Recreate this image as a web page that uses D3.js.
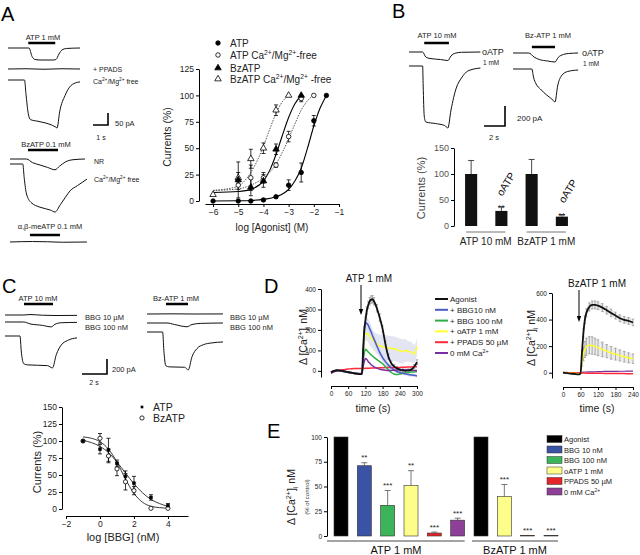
<!DOCTYPE html>
<html><head><meta charset="utf-8">
<script src="https://cdn.jsdelivr.net/npm/d3@7"></script>
<style>
body{margin:0;background:#fff}
svg{display:block}
</style></head><body>
<svg id="c" width="640" height="555"></svg>
<script>
// ================= DATA =================
// Panel A dose-response (log [Agonist] M vs Currents %)
const aTicksX = [-6,-5,-4,-3,-2,-1];
const aTicksY = [0,25,50,75,100,125];
const aATPx = [-6,-5,-4.5,-4,-3.5,-3,-2.5,-2,-1.5];
const aATPy = [0,0,0,1,4,15,27,76,100];
const aATPe = [0,0,0,1,1,5,9,5,0];
const aATPCax = [-5,-4.5,-4,-3.5,-3,-2.5,-2];
const aATPCay = [15,22,22,34,61,97,100];
const aATPCae = [4,12,5,2,5,3,0];
const aBzx = [-5,-4.5,-4,-3.5,-2.5];
const aBzy = [20,13,19,49,100];
const aBze = [17,8,6,5,0];
const aBzCax = [-6,-5,-4.5,-4,-3.5,-3];
const aBzCay = [6,22,40,50,86,100];
const aBzCae = [0,5,9,5,5,0];
const aFitATP = [[-6,0],[-5,0.2],[-4.5,0.5],[-4,1.5],[-3.5,4],[-3,11],[-2.75,19],[-2.5,31],[-2.25,50],[-2,71],[-1.75,88],[-1.5,100]];
const aFitATPCa = [[-6,10],[-5,11.5],[-4.5,15],[-4,22],[-3.5,35],[-3.25,46],[-3,59],[-2.75,73],[-2.5,86],[-2.25,95],[-2,100]];
const aFitBz = [[-6,8],[-5,9],[-4.5,11],[-4,19],[-3.75,29],[-3.5,44],[-3.25,62],[-3,79],[-2.75,92],[-2.5,100]];
const aFitBzCa = [[-6,10],[-5,14],[-4.75,19],[-4.5,27],[-4.25,38],[-4,52],[-3.75,68],[-3.5,83],[-3.25,94],[-3,100]];

// Panel A current traces ([time s, current pA])
const trATP1 = [[0,0],[1.4,0],[1.6,-35],[1.8,-48],[2.2,-50],[3.0,-50],[3.2,-48],[3.4,-25],[3.6,-8],[3.9,-2],[4.8,0]];
const trPPADS = [[0,0],[1.2,1],[2.4,-1],[3.6,1],[4.8,0]];
const trATPCa = [[0,0],[1.1,0],[1.2,-60],[1.35,-140],[1.5,-165],[2.0,-172],[2.8,-185],[3.15,-195],[3.27,-200],[3.45,-130],[3.8,-65],[4.1,-30],[4.5,-12],[4.8,-8]];
const trBzNR = [[0,0],[1.1,0],[1.5,-15],[2,-25],[2.5,-35],[3,-45],[3.3,-30],[3.7,-12],[4.2,-3],[5,0]];
const trBzCa = [[0,0],[0.85,0],[0.95,-60],[1.1,-125],[1.4,-160],[2,-180],[2.7,-192],[3.0,-200],[3.35,-170],[3.7,-138],[4.0,-112],[4.5,-90],[5.13,-63]];
const trMeATP = [[0,0],[1.5,2],[2.5,1],[3.5,-1],[5.13,0]];

// Panel B traces
const trB1 = [[0,0],[1.3,0],[1.6,-50],[2,-65],[3,-75],[3.7,-85],[4,-40],[4.4,-12],[5,-3],[6.8,0]];
const trB2 = [[0,0],[1.3,0],[1.35,-200],[1.45,-500],[1.6,-560],[2.5,-575],[3.4,-595],[3.7,-620],[4.0,-440],[4.5,-220],[5.0,-120],[5.6,-50],[6.8,-20]];
const trB3 = [[0,0],[1.5,0],[2,-40],[2.5,-65],[3.3,-80],[4,-90],[4.3,-45],[4.8,-15],[5.3,-5],[6.2,0]];
const trB4 = [[0,0],[1.8,0],[1.95,-80],[2.2,-150],[2.6,-200],[3.2,-260],[3.7,-300],[4.0,-330],[4.25,-170],[4.6,-70],[5.2,-25],[6.2,-10]];
// Panel B bars
const bCats = ["ATP ctrl","ATP oATP","BzATP ctrl","BzATP oATP"];
const bValues = [100,29,100,18];
const bErr = [26,8,28,4];
const bStars = ["","**","","**"];
const bTicksY = [0,50,100,150];

// Panel C traces
const trC1 = [[0,0],[1.5,0],[2,6],[3,-3],[4,-7],[5.76,-5]];
const trC2 = [[0,0],[1.5,0],[2,-25],[3,-45],[3.7,-65],[4,-30],[4.5,-10],[5.76,-5]];
const trC3 = [[0,0],[1.2,0],[1.3,-200],[1.5,-370],[1.8,-385],[3.4,-395],[3.8,-425],[4.1,-250],[4.5,-120],[5,-60],[5.76,-25]];
const trC4 = [[0,0],[2,2],[4,0],[6.08,1]];
const trC5 = [[0,0],[1.6,0],[2.2,-20],[3.2,-50],[3.6,-20],[4.3,-5],[6.08,0]];
const trC6 = [[0,0],[1.25,0],[1.35,-250],[1.5,-450],[1.8,-465],[3.0,-470],[3.3,-505],[3.6,-330],[4.0,-220],[4.5,-170],[5.2,-145],[6.08,-133]];
// Panel C inhibition curve (log [BBG] nM)
const cTicksX = [-2,0,2,4];
const cTicksY = [0,25,50,75,100,125,150];
const cX = [-1,0,0.5,1,1.5,2,3,4];
const cATP = [100,88,87,67,48,38,17,5];
const cATPe = [0,7,17,5,8,10,4,3];
const cBz = [100,104,78,59,40,27,1,1];
const cBze = [0,7,10,10,12,6,0,0];
const cFitATP = [[-1,101],[0,92],[0.5,83],[1,69],[1.5,53],[2,37],[2.5,24],[3,14],[3.5,8],[4,4]];
const cFitBz = [[-1,106],[-0.5,104],[0,99],[0.5,88],[1,69],[1.5,44],[2,23],[2.5,10],[3,4],[3.5,2],[4,1]];

// Panel D time courses
const dLegend = ["Agonist","+ BBG10 nM","+ BBG 100 nM","+ oATP 1 mM","+ PPADS 50 \u00b5M","0 mM Ca"];
const dLeftTime = [0,10,20,30,40,50,60,70,80,90,100,108,112,116,120,125,130,135,140,145,150,160,170,180,190,200,210,220,230,240,250,260,270,280,290,300];
const dLeftAgonist = [-6,0,3,2,0,-3,-6,-9,-12,-14,-16,-16,100,200,245,295,322,340,348,350,340,306,260,205,130,70,38,22,12,6,2,0,2,6,20,42];
const dLeftAgonistErr = [5,5,5,5,5,5,5,5,5,5,5,5,10,15,18,18,18,18,18,18,18,18,18,15,15,12,10,8,8,8,8,8,8,8,10,12];
const dLeftBBG10 = [-8,-2,2,0,-2,-5,-8,-10,-12,-14,-15,-15,80,180,235,232,222,205,190,172,155,122,90,65,45,28,15,5,-3,-8,-12,-15,-18,-20,-22,-25];
const dLeftBBG10Err = [0,0,0,0,0,0,0,0,0,0,0,0,10,20,30,30,30,30,30,30,28,25,22,20,18,15,12,10,8,8,8,8,8,8,8,8];
const dLeftBBG100 = [-8,-2,2,0,-2,-5,-8,-10,-12,-13,-14,-14,40,85,105,100,92,85,78,72,66,55,45,35,20,5,-8,-15,-18,-15,-12,-10,-8,-6,-5,-4];
const dLeftOATP = [-10,-5,-2,0,-2,-5,-8,-10,-12,-13,-14,-14,60,140,180,182,178,170,160,152,145,132,122,118,115,112,110,108,104,98,95,100,95,92,82,118];
const dLeftOATPErr = [0,0,0,0,0,0,0,0,0,0,0,0,10,20,30,35,40,45,45,45,45,50,55,60,60,60,60,60,60,60,60,55,50,50,45,40];
const dLeftPPADS = [-5,-3,0,3,5,7,9,10,11,11,12,12,12,12,13,13,13,13,14,14,14,14,15,15,16,16,16,17,17,17,18,18,19,19,20,20];
const dLeftCa0 = [-12,-5,0,2,0,-3,-6,-8,-10,-12,-13,-13,20,45,60,55,45,38,30,25,20,14,8,5,3,2,2,3,4,5,5,5,4,3,2,2];
const dLeftTicksX = [0,60,120,180,240,300];
const dLeftTicksY = [0,100,200,300,400];
const dRightTime = [0,10,20,30,40,50,55,60,65,70,75,80,90,100,110,120,135,150,165,180,195,210,225,240];
const dRightAgonist = [0,-3,-5,-8,-10,-12,-12,-5,150,300,400,450,495,510,510,505,490,470,450,430,410,398,390,378];
const dRightAgonistErr = [3,3,3,3,3,3,3,3,20,30,30,30,30,30,30,30,30,28,28,26,26,25,25,25];
const dRightOATP = [2,0,-3,-5,-6,-8,-8,-5,80,140,175,195,207,205,198,188,175,162,150,140,130,120,112,105];
const dRightOATPErr = [3,3,3,3,3,3,3,3,30,50,60,65,65,65,62,60,55,50,48,45,42,40,38,35];
const dRightPPADS = [2,1,0,0,-1,-2,-2,-2,-3,-3,-3,-4,-4,-5,-5,-5,-5,-6,-6,-6,-7,-7,-8,-8];
const dRightCa0 = [0,0,-1,-2,-2,-3,-3,-2,2,4,5,5,6,6,7,8,9,10,10,10,11,11,12,12];
const dRightTicksX = [0,60,120,180,240];
const dRightTicksY = [0,200,400,600];

// Panel E bars (% of control)
const eCats = ["ATP Agonist","ATP BBG10","ATP BBG100","ATP oATP","ATP PPADS","ATP Ca0","Bz Agonist","Bz oATP","Bz PPADS","Bz Ca0"];
const eValues = [100,71,31,51,3,16,100,40,0.7,0.7];
const eErr = [0,3,15,15,1,2,0,12,0,0];
const eStars = ["","**","***","**","***","***","","***","***","***"];
const eKind = [0,1,2,3,4,5,0,3,4,5];
const eLegend = ["Agonist","BBG 10 nM","BBG 100 nM","oATP 1 mM","PPADS 50 \u00b5M","0 mM Ca"];
const eTicksY = [0,25,50,75,100];
const eGroups = ["ATP 1 mM","BzATP 1 mM"];

// ================= DRAWING =================
const FONT = '"Liberation Sans", Arial, Helvetica, sans-serif';
const svg = d3.select('#c').attr('font-family', FONT);
svg.append('rect').attr('width',640).attr('height',555).attr('fill','#fff');

function txt(g,x,y,s,o={}){
  const t = g.append('text').attr('x',x).attr('y',y).attr('font-size',o.fs||8)
    .attr('text-anchor',o.anchor||'start').attr('fill',o.fill||'#000').text(s);
  if(o.rotate!==undefined) t.attr('transform',`rotate(${o.rotate},${x},${y})`);
  return t;
}
function rich(g,x,y,parts,o={}){
  const fs=o.fs||8;
  const t = g.append('text').attr('x',x).attr('y',y).attr('font-size',fs)
    .attr('text-anchor',o.anchor||'start').attr('fill',o.fill||'#000');
  if(o.rotate!==undefined) t.attr('transform',`rotate(${o.rotate},${x},${y})`);
  let cur=0;
  parts.forEach(([s,k])=>{
    const off = k==='sup' ? -0.4*fs : k==='sub' ? 0.25*fs : 0;
    t.append('tspan').attr('dy',off-cur).attr('font-size',k?fs*0.68:fs).text(s);
    cur=off;
  });
  return t;
}
function styleAxis(ax,fs,col){
  ax.attr('font-size',fs).attr('font-family',FONT);
  ax.selectAll('text').attr('fill',col||'#222');
  ax.selectAll('line').attr('stroke','#000');
  ax.select('.domain').attr('stroke','#000');
}
function axL(g,scale,x,ticks,fs,col){
  const ax=g.append('g').attr('transform',`translate(${x},0)`)
    .call(d3.axisLeft(scale).tickValues(ticks).tickSize(3).tickSizeOuter(0).tickPadding(2).tickFormat(d3.format('d')));
  styleAxis(ax,fs,col); return ax;
}
function axB(g,scale,y,ticks,fs,col){
  const ax=g.append('g').attr('transform',`translate(0,${y})`)
    .call(d3.axisBottom(scale).tickValues(ticks).tickSize(3).tickSizeOuter(0).tickPadding(2).tickFormat(d3.format('d')));
  styleAxis(ax,fs,col); return ax;
}
function drawTrace(g,pts,x0,y0,pxs,pxpa,sw){
  const xs=d3.scaleLinear().domain([0,1]).range([x0,x0+pxs]);
  const ys=d3.scaleLinear().domain([0,-1]).range([y0,y0+pxpa]);
  g.append('path').datum(pts)
    .attr('d',d3.line().x(d=>xs(d[0])).y(d=>ys(d[1])).curve(d3.curveMonotoneX))
    .attr('fill','none').attr('stroke','#111').attr('stroke-width',sw||1);
  return xs;
}
function appBar(g,xs,t0,t1,y){
  g.append('line').attr('x1',xs(t0)).attr('x2',xs(t1)).attr('y1',y).attr('y2',y)
    .attr('stroke','#000').attr('stroke-width',2.5);
}
function scaleBar(g,x0,x1,y0,y1){
  g.append('path').attr('d',`M${x0},${y1}H${x1}V${y0}`).attr('fill','none').attr('stroke','#000').attr('stroke-width',1.6);
}
function errBars(g,xs,ys,X,Y,E,cap,col,up){
  X.forEach((x,i)=>{
    if(!E[i]) return;
    const px=xs(x), t=ys(Y[i]+E[i]), b=up?ys(Y[i]):ys(Y[i]-E[i]);
    g.append('line').attr('x1',px).attr('x2',px).attr('y1',t).attr('y2',b).attr('stroke',col||'#000').attr('stroke-width',0.8);
    g.append('line').attr('x1',px-cap).attr('x2',px+cap).attr('y1',t).attr('y2',t).attr('stroke',col||'#000').attr('stroke-width',0.8);
    if(!up) g.append('line').attr('x1',px-cap).attr('x2',px+cap).attr('y1',b).attr('y2',b).attr('stroke',col||'#000').attr('stroke-width',0.8);
  });
}
function arrow(g,x,y0,y1){
  g.append('line').attr('x1',x).attr('x2',x).attr('y1',y0).attr('y2',y1-4).attr('stroke','#000').attr('stroke-width',1);
  g.append('path').attr('d',`M${x-2.2},${y1-6}L${x+2.2},${y1-6}L${x},${y1}Z`).attr('fill','#000');
}

// ---------- Panel letters ----------
txt(svg,1,21,'A',{fs:20});
txt(svg,392,18,'B',{fs:20});
txt(svg,2,293,'C',{fs:20});
txt(svg,264,293,'D',{fs:20});
txt(svg,267,438,'E',{fs:20});

// ---------- Panel A traces ----------
const gA = svg.append('g');
const pxsA=15, pxpaA=0.24;
let xs;
xs=drawTrace(gA,trATP1,8,48,pxsA,pxpaA);
appBar(gA,xs,1.35,3.15,43);
txt(gA,43,40,'ATP 1 mM',{fs:7.5,anchor:'middle',fill:'#222'});
drawTrace(gA,trPPADS,8,69,pxsA,pxpaA);
drawTrace(gA,trATPCa,8,80,pxsA,pxpaA);
txt(gA,93,72,'+ PPADS',{fs:7,fill:'#222'});
rich(gA,93,84,[['Ca'],['2+','sup'],['/Mg'],['2+','sup'],[' free']],{fs:7,fill:'#222'});
scaleBar(gA,93,108,113,125);
txt(gA,115,126,'50 pA',{fs:7.5,fill:'#222'});
txt(gA,101,140,'1 s',{fs:7,anchor:'middle',fill:'#222'});
xs=drawTrace(gA,trBzNR,10,159,pxsA,pxpaA);
appBar(gA,xs,1.2,3.2,150);
txt(gA,46,147,'BzATP 0.1 mM',{fs:7.5,anchor:'middle',fill:'#222'});
drawTrace(gA,trBzCa,10,164,pxsA,pxpaA);
txt(gA,94,164,'NR',{fs:7,fill:'#222'});
rich(gA,94,182,[['Ca'],['2+','sup'],['/Mg'],['2+','sup'],[' free']],{fs:7,fill:'#222'});
xs=drawTrace(gA,trMeATP,10,242,pxsA,pxpaA);
appBar(gA,xs,1.33,3.33,235);
txt(gA,50,229,'\u03b1,\u03b2-meATP 0.1 mM',{fs:7.5,anchor:'middle',fill:'#222'});

// ---------- Panel A chart ----------
const xA = d3.scaleLinear().domain([-6.32,-1]).range([205,339]);
const yA = d3.scaleLinear().domain([0,125]).range([201,69]);
axL(gA,yA,199,aTicksY,8.5);
axB(gA,xA,204,aTicksX,8.5);
txt(gA,171,137,'Currents (%)',{fs:10.5,anchor:'middle',rotate:-90,fill:'#222'});
txt(gA,272,231,'log [Agonist] (M)',{fs:10,anchor:'middle',fill:'#222'});
const lineA = d3.line().x(d=>xA(d[0])).y(d=>yA(d[1])).curve(d3.curveMonotoneX);
gA.append('path').datum(aFitATP).attr('d',lineA).attr('fill','none').attr('stroke','#000').attr('stroke-width',1.1);
gA.append('path').datum(aFitBz).attr('d',lineA).attr('fill','none').attr('stroke','#000').attr('stroke-width',1.1);
gA.append('path').datum(aFitATPCa).attr('d',lineA).attr('fill','none').attr('stroke','#444').attr('stroke-width',0.9).attr('stroke-dasharray','1.5,1.2');
gA.append('path').datum(aFitBzCa).attr('d',lineA).attr('fill','none').attr('stroke','#444').attr('stroke-width',0.9).attr('stroke-dasharray','1.5,1.2');
errBars(gA,xA,yA,aATPx,aATPy,aATPe,2);
errBars(gA,xA,yA,aATPCax,aATPCay,aATPCae,2);
errBars(gA,xA,yA,aBzx,aBzy,aBze,2);
errBars(gA,xA,yA,aBzCax,aBzCay,aBzCae,2);
const symC = d3.symbol().type(d3.symbolCircle).size(16)();
const symT = d3.symbol().type(d3.symbolTriangle).size(18)();
function marks(g,xsc,ysc,X,Y,sym,filled){
  X.forEach((x,i)=>{
    g.append('path').attr('d',sym).attr('transform',`translate(${xsc(x)},${ysc(Y[i])})`)
      .attr('fill',filled?'#000':'#fff').attr('stroke','#000').attr('stroke-width',0.8);
  });
}
marks(gA,xA,yA,aATPCax,aATPCay,symC,false);
marks(gA,xA,yA,aBzCax,aBzCay,symT,false);
marks(gA,xA,yA,aATPx,aATPy,symC,true);
marks(gA,xA,yA,aBzx,aBzy,symT,true);
// legend A
const legA=[[symC,true,[['ATP']]],[symC,false,[['ATP Ca'],['2+','sup'],['/Mg'],['2+','sup'],['-free']]],[symT,true,[['BzATP']]],[symT,false,[['BzATP Ca'],['2+','sup'],['/Mg'],['2+','sup'],[' -free']]]];
const legAy=[43,55,68,79];
legA.forEach((l,i)=>{
  gA.append('path').attr('d',l[0]).attr('transform',`translate(218,${legAy[i]})`).attr('fill',l[1]?'#000':'#fff').attr('stroke','#000').attr('stroke-width',0.8);
  rich(gA,230,legAy[i]+3.5,l[2],{fs:10,fill:'#222'});
});

// ---------- Panel B ----------
const gB = svg.append('g');
const pxsB=10.5, pxpaB=0.1;
xs=drawTrace(gB,trB1,409,52,pxsB,pxpaB);
appBar(gB,xs,1.45,3.8,43);
txt(gB,437,38,'ATP 10 mM',{fs:7.5,anchor:'middle',fill:'#222'});
drawTrace(gB,trB2,409,66,pxsB,pxpaB);
xs=drawTrace(gB,trB3,513,53,pxsB,pxpaB);
appBar(gB,xs,1.8,4.0,47);
txt(gB,548,38,'Bz-ATP 1 mM',{fs:7.5,anchor:'middle',fill:'#222'});
drawTrace(gB,trB4,513,69,pxsB,pxpaB);
txt(gB,482,55,'oATP',{fs:9,fill:'#222'});
txt(gB,483,65,'1 mM',{fs:6.5,fill:'#222'});
txt(gB,582,56,'oATP',{fs:9,fill:'#222'});
txt(gB,583,66,'1 mM',{fs:6.5,fill:'#222'});
scaleBar(gB,484,505,106,126);
txt(gB,517,121,'200 pA',{fs:8,fill:'#222'});
txt(gB,494,140,'2 s',{fs:7.5,anchor:'middle',fill:'#222'});
const xB = d3.scaleBand().domain(bCats).range([456,577]).paddingInner(0.6).paddingOuter(0.3);
const yB = d3.scaleLinear().domain([0,150]).range([226,148]);
axL(gB,yB,454,bTicksY,9,'#555');
gB.selectAll('rect.b').data(bCats).join('rect').attr('x',d=>xB(d)).attr('width',xB.bandwidth())
  .attr('y',(d,i)=>yB(bValues[i])).attr('height',(d,i)=>yB(0)-yB(bValues[i])).attr('fill','#111');
bCats.forEach((c,i)=>{
  const cx=xB(c)+xB.bandwidth()/2, t=yB(bValues[i]+bErr[i]);
  gB.append('line').attr('x1',cx).attr('x2',cx).attr('y1',t).attr('y2',yB(bValues[i])).attr('stroke','#333').attr('stroke-width',0.9);
  gB.append('line').attr('x1',cx-3).attr('x2',cx+3).attr('y1',t).attr('y2',t).attr('stroke','#333').attr('stroke-width',0.9);
  if(bStars[i]) txt(gB,cx,t+4,bStars[i],{fs:9,anchor:'middle',fill:'#222'});
});
txt(gB,509,186,'oATP',{fs:10.5,anchor:'middle',rotate:-58,fill:'#111'});
txt(gB,571,193,'oATP',{fs:10.5,anchor:'middle',rotate:-58,fill:'#111'});
txt(gB,425,188,'Currents (%)',{fs:11,anchor:'middle',rotate:-90,fill:'#444'});
[[0,1],[2,3]].forEach((p,k)=>{
  const x0=xB(bCats[p[0]])+1, x1=xB(bCats[p[1]])+xB.bandwidth()-2;
  gB.append('line').attr('x1',x0).attr('x2',x1).attr('y1',232).attr('y2',232).attr('stroke','#666').attr('stroke-width',0.9);
  txt(gB,(x0+x1)/2,245,k?'BzATP 1 mM':'ATP 10 mM',{fs:10,anchor:'middle',fill:'#222'});
});

// ---------- Panel C ----------
const gC = svg.append('g');
const pxsC=12.5, pxpaC=0.075;
drawTrace(gC,trC1,5,315,pxsC,pxpaC);
drawTrace(gC,trC2,5,322,pxsC,pxpaC);
xs=drawTrace(gC,trC3,5,336,pxsC,pxpaC);
appBar(gC,xs,1.52,3.84,304);
txt(gC,38,301,'ATP 10 mM',{fs:7.5,anchor:'middle',fill:'#222'});
drawTrace(gC,trC4,147,314,pxsC,pxpaC);
drawTrace(gC,trC5,147,323,pxsC,pxpaC);
xs=drawTrace(gC,trC6,147,332,pxsC,pxpaC);
appBar(gC,xs,1.52,3.28,304);
txt(gC,176,301,'Bz-ATP 1 mM',{fs:7.5,anchor:'middle',fill:'#222'});
txt(gC,85,320,'BBG 10 \u00b5M',{fs:7.5,fill:'#222'});
txt(gC,85,330,'BBG 100 nM',{fs:7.5,fill:'#222'});
txt(gC,230,320,'BBG 10 \u00b5M',{fs:7.5,fill:'#222'});
txt(gC,230,330,'BBG 100 nM',{fs:7.5,fill:'#222'});
scaleBar(gC,82,107,359,374);
txt(gC,112,372,'200 pA',{fs:7.5,fill:'#222'});
txt(gC,94,385,'2 s',{fs:7,anchor:'middle',fill:'#222'});
const xC = d3.scaleLinear().domain([-2,5.18]).range([66,188]);
const yC = d3.scaleLinear().domain([0,150]).range([509,407]);
axL(gC,yC,62,cTicksY,8.5);
axB(gC,xC,516,cTicksX,8.5);
txt(gC,41,462,'Currents (%)',{fs:11,anchor:'middle',rotate:-90,fill:'#222'});
txt(gC,123,541,'log [BBG] (nM)',{fs:11,anchor:'middle',fill:'#222'});
const lineC = d3.line().x(d=>xC(d[0])).y(d=>yC(d[1])).curve(d3.curveMonotoneX);
gC.append('path').datum(cFitATP).attr('d',lineC).attr('fill','none').attr('stroke','#222').attr('stroke-width',0.9);
gC.append('path').datum(cFitBz).attr('d',lineC).attr('fill','none').attr('stroke','#222').attr('stroke-width',0.9);
errBars(gC,xC,yC,cX,cATP,cATPe,2);
errBars(gC,xC,yC,cX,cBz,cBze,2);
marks(gC,xC,yC,cX,cBz,d3.symbol().type(d3.symbolCircle).size(14)(),false);
const symSq = d3.symbol().type(d3.symbolSquare).size(7)();
marks(gC,xC,yC,cX,cATP,symSq,true);
gC.append('path').attr('d',symSq).attr('transform','translate(142,407)').attr('fill','#000');
txt(gC,153,411,'ATP',{fs:10.5,fill:'#222'});
gC.append('path').attr('d',d3.symbol().type(d3.symbolCircle).size(14)()).attr('transform','translate(142,418)').attr('fill','#fff').attr('stroke','#000').attr('stroke-width',0.8);
txt(gC,153,422,'BzATP',{fs:10.5,fill:'#222'});

// ---------- Panel D ----------
const gD = svg.append('g');
const dCol = ['#111','#4a5cc0','#2fae48','#ffff30','#ff2a3a','#7a2fa0'];
// left
const xD1 = d3.scaleLinear().domain([0,300]).range([331,417]);
const yD1 = d3.scaleLinear().domain([-30,400]).range([377,289]);
axL(gD,yD1,321,dLeftTicksY,6.5);
axB(gD,xD1,386,dLeftTicksX,6.5);
rich(gD,307,337,[['\u0394 [Ca'],['2+','sup'],[']'],['i','sub'],[' nM']],{fs:10.5,anchor:'middle',rotate:-90,fill:'#222'});
txt(gD,373,412,'time (s)',{fs:10.5,anchor:'middle',fill:'#222'});
function band(g,xsc,ysc,T,V,E,fill,from){
  const pts=T.map((t,i)=>[t,V[i],E[i]]).filter(d=>d[0]>=from);
  g.append('path').datum(pts).attr('d',d3.area().x(d=>xsc(d[0])).y0(d=>ysc(d[1]-d[2])).y1(d=>ysc(d[1]+d[2])).curve(d3.curveMonotoneX))
    .attr('fill',fill).attr('stroke','none');
}
function series(g,xsc,ysc,T,V,col,sw){
  g.append('path').datum(T.map((t,i)=>[t,V[i]])).attr('d',d3.line().x(d=>xsc(d[0])).y(d=>ysc(d[1])).curve(d3.curveMonotoneX))
    .attr('fill','none').attr('stroke',col).attr('stroke-width',sw||1.5);
}
band(gD,xD1,yD1,dLeftTime,dLeftOATP,dLeftOATPErr,'#e3e5f2',112);
band(gD,xD1,yD1,dLeftTime,dLeftBBG10,dLeftBBG10Err,'#dcdff2',112);
errBars(gD,xD1,yD1,dLeftTime.filter((t,i)=>dLeftTime[i]>=112),dLeftAgonist.filter((v,i)=>dLeftTime[i]>=112),dLeftAgonistErr.filter((v,i)=>dLeftTime[i]>=112),1.2,'#999');
series(gD,xD1,yD1,dLeftTime,dLeftPPADS,dCol[4]);
series(gD,xD1,yD1,dLeftTime,dLeftOATP,dCol[3]);
series(gD,xD1,yD1,dLeftTime,dLeftBBG100,dCol[2]);
series(gD,xD1,yD1,dLeftTime,dLeftBBG10,dCol[1]);
series(gD,xD1,yD1,dLeftTime,dLeftCa0,dCol[5]);
series(gD,xD1,yD1,dLeftTime,dLeftAgonist,dCol[0],1.8);
txt(gD,369,282,'ATP 1 mM',{fs:10,anchor:'middle',fill:'#111'});
arrow(gD,361,285,315);
// legend D
dLegend.forEach((l,i)=>{
  const y=299+i*10.8;
  gD.append('line').attr('x1',435).attr('x2',448).attr('y1',y).attr('y2',y).attr('stroke',dCol[i]).attr('stroke-width',2);
  if(i===5) rich(gD,450,y+3,[['0 mM Ca'],['2+','sup']],{fs:8,fill:'#222'});
  else txt(gD,450,y+3,l,{fs:8,fill:'#222'});
});
// right
const xD2 = d3.scaleLinear().domain([0,240]).range([563,633]);
const yD2 = d3.scaleLinear().domain([-40,600]).range([378,293]);
axL(gD,yD2,552,dRightTicksY,6.5);
axB(gD,xD2,387,dRightTicksX,6.5);
rich(gD,535,338,[['\u0394 [Ca'],['2+','sup'],[']'],['i','sub'],[' nM']],{fs:10.5,anchor:'middle',rotate:-90,fill:'#222'});
txt(gD,597,412,'time (s)',{fs:10.5,anchor:'middle',fill:'#222'});
band(gD,xD2,yD2,dRightTime,dRightAgonist,dRightAgonistErr,'#ececec',65);
band(gD,xD2,yD2,dRightTime,dRightOATP,dRightOATPErr,'#ececec',65);
errBars(gD,xD2,yD2,dRightTime,dRightAgonist,dRightAgonistErr.map((e,i)=>dRightTime[i]>=65?e:0),1.2,'#999');
errBars(gD,xD2,yD2,dRightTime,dRightOATP,dRightOATPErr.map((e,i)=>dRightTime[i]>=65?e:0),1.2,'#999');
series(gD,xD2,yD2,dRightTime,dRightCa0,dCol[5],1.2);
series(gD,xD2,yD2,dRightTime,dRightPPADS,dCol[4]);
series(gD,xD2,yD2,dRightTime,dRightOATP,dCol[3]);
series(gD,xD2,yD2,dRightTime,dRightAgonist,dCol[0],1.8);
txt(gD,597,287,'BzATP 1 mM',{fs:10,anchor:'middle',fill:'#111'});
arrow(gD,579,290,322);

// ---------- Panel E ----------
const gE = svg.append('g');
const eCol = ['#000000','#3a53a4','#3cb55a','#fdfd8a','#e5242a','#8e3f98'];
const xE = d3.scaleBand().domain(eCats).range([334,558]).paddingInner(0.4).paddingOuter(0);
const yE = d3.scaleLinear().domain([0,100]).range([536,437]);
axL(gE,yE,327,eTicksY,6.5);
gE.selectAll('rect.e').data(eCats).join('rect').attr('x',d=>xE(d)).attr('width',xE.bandwidth())
  .attr('y',(d,i)=>yE(eValues[i])).attr('height',(d,i)=>yE(0)-yE(eValues[i]))
  .attr('fill',(d,i)=>eCol[eKind[i]]).attr('stroke','#333').attr('stroke-width',0.6);
eCats.forEach((c,i)=>{
  const cx=xE(c)+xE.bandwidth()/2;
  const t=yE(eValues[i]+eErr[i]);
  if(eErr[i]){
    gE.append('line').attr('x1',cx).attr('x2',cx).attr('y1',t).attr('y2',yE(eValues[i])).attr('stroke','#555').attr('stroke-width',0.8);
    gE.append('line').attr('x1',cx-3).attr('x2',cx+3).attr('y1',t).attr('y2',t).attr('stroke','#555').attr('stroke-width',0.8);
  }
  if(eStars[i]) txt(gE,cx,t-2.5,eStars[i],{fs:8,anchor:'middle',fill:'#222'});
});
[[0,5],[6,9]].forEach((p,k)=>{
  const x0=k?xE(eCats[p[0]])-2:327, x1=xE(eCats[p[1]])+xE.bandwidth();
  gE.append('line').attr('x1',x0).attr('x2',x1).attr('y1',541).attr('y2',541).attr('stroke','#333').attr('stroke-width',0.9);
  txt(gE,k?515:396,554,eGroups[k],{fs:11,anchor:'middle',fill:'#111'});
});
rich(gE,295,497,[['\u0394 [Ca'],['2+','sup'],[']'],['i','sub'],[' nM']],{fs:10.5,anchor:'middle',rotate:-90,fill:'#222'});
txt(gE,309,497,'(% of control)',{fs:6,anchor:'middle',rotate:-90,fill:'#333'});
eLegend.forEach((l,i)=>{
  const y=439+i*10.5;
  gE.append('rect').attr('x',547).attr('y',y-3.5).attr('width',15).attr('height',7).attr('fill',eCol[i]).attr('stroke','#333').attr('stroke-width',0.5);
  if(i===5) rich(gE,564,y+3,[['0 mM Ca'],['2+','sup']],{fs:7.5,fill:'#222'});
  else txt(gE,564,y+3,l,{fs:7.5,fill:'#222'});
});
</script>
</body></html>
